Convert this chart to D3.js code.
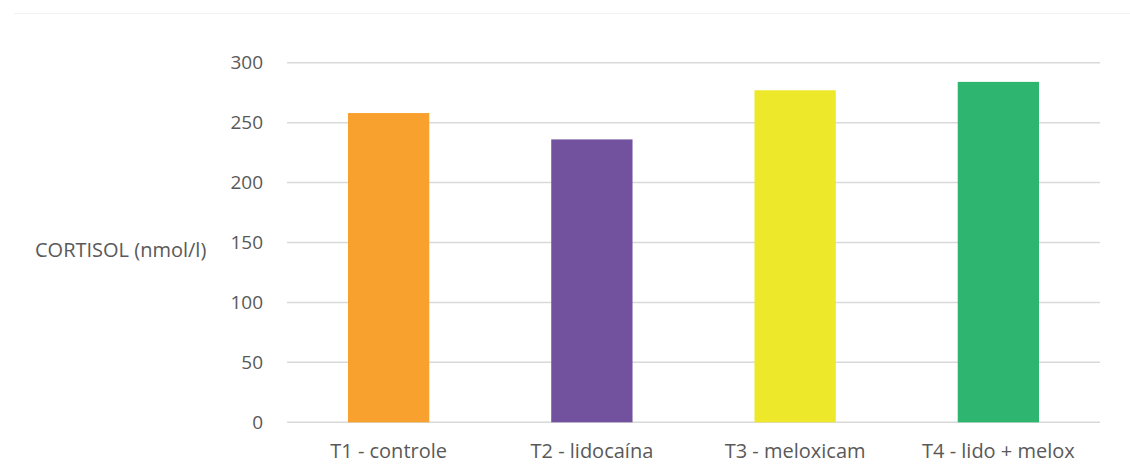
<!DOCTYPE html>
<html>
<head>
<meta charset="utf-8">
<script src="https://cdn.jsdelivr.net/npm/d3@7"></script>
<style>
  html, body { margin: 0; padding: 0; background: #fff; }
  svg { display: block; }
  text { font-family: "Open Sans", Lato, sans-serif; fill: #595959; }
</style>
</head>
<body>
<svg id="chart" width="1130" height="469"></svg>
<script>
const categories = ["T1 - controle", "T2 - lidocaína", "T3 - meloxicam", "T4 - lido + melox"];
const values = [258, 236, 277, 284];
const colors = ["#F9A12E", "#72519F", "#EDE82A", "#2EB56F"];
const yTicks = [0, 50, 100, 150, 200, 250, 300];
const yLabel = "CORTISOL (nmol/l)";

(function () {
const svg = d3.select("#chart");
const mLeft = 287, mRight = 1100, mTop = 62.7, mBottom = 422.3;
const FONT = "'Open Sans', Lato, sans-serif";

// faint frame line at top
svg.append("line")
  .attr("x1", 14).attr("x2", 1130).attr("y1", 13.5).attr("y2", 13.5)
  .attr("stroke", "#f2f2f2").attr("stroke-width", 1);

const x = d3.scaleBand().domain(categories).range([mLeft, mRight])
  .paddingInner(0.6).paddingOuter(0.3);
const y = d3.scaleLinear().domain([0, 300]).range([mBottom, mTop]);

// gridlines
svg.append("g").selectAll("line").data(yTicks).join("line")
  .attr("x1", mLeft).attr("x2", mRight)
  .attr("y1", d => y(d)).attr("y2", d => y(d))
  .attr("stroke", "#d9d9d9").attr("stroke-width", 1.5);

// y axis labels
const yAxis = svg.append("g").attr("transform", `translate(${mLeft},0)`)
  .call(d3.axisLeft(y).tickValues(yTicks).tickSize(0).tickPadding(24));
yAxis.select(".domain").remove();
yAxis.selectAll("text").style("font-size", "19px").attr("fill", "#595959")
  .style("font-family", FONT);

// bars
svg.append("g").selectAll("rect").data(values).join("rect")
  .attr("x", (d, i) => x(categories[i]))
  .attr("width", x.bandwidth())
  .attr("y", d => y(d))
  .attr("height", d => y(0) - y(d))
  .attr("fill", (d, i) => colors[i]);

// x axis labels
const xAxis = svg.append("g").attr("transform", `translate(0,${mBottom})`)
  .call(d3.axisBottom(x).tickSize(0).tickPadding(22));
xAxis.select(".domain").remove();
xAxis.selectAll("text").style("font-size", "20px").attr("fill", "#595959")
  .style("font-family", FONT);

// y label
svg.append("text")
  .attr("x", 35).attr("y", 257)
  .style("font-size", "20px")
  .style("font-family", FONT)
  .text(yLabel);
})();
</script>
</body>
</html>
